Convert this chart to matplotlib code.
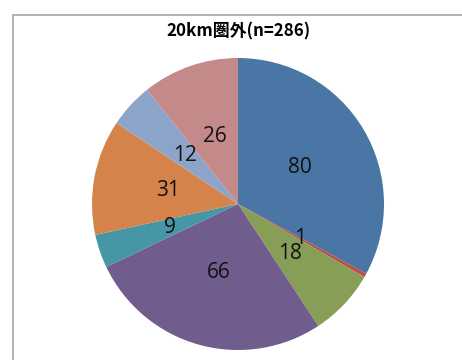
import matplotlib.pyplot as plt
from matplotlib.patches import Rectangle

plt.rcParams['font.family'] = ['Noto Sans CJK JP', 'DejaVu Sans']

# 回答数（時計回り、12時の位置から）
values = [80, 1, 18, 66, 9, 31, 12, 26]
colors = ['#4A76A6', '#BE4B48', '#879E56', '#715C8E', '#4596A6',
          '#D4834A', '#8CA4CA', '#C48A89']
title = '20km圏外(n=286)'

fig = plt.figure(figsize=(4.62, 3.6), dpi=100)

# 外枠（右と下は画像の外まで続く）
fig.patches.append(Rectangle((13 / 462, -0.1), 1.2, (360 - 15) / 360 + 0.1,
                             transform=fig.transFigure, fill=False,
                             edgecolor='#A6A6A6', linewidth=1.2))

ax = fig.add_axes([(238 - 146) / 462, (360 - 204 - 146) / 360,
                   292 / 462, 292 / 360])
wedges, texts = ax.pie(values, colors=colors, startangle=90, counterclock=False,
                       labels=[str(v) for v in values], labeldistance=0.49,
                       wedgeprops=dict(linewidth=0),
                       textprops=dict(fontsize=15, family=['Open Sans'],
                                      color='#111111'))
for t in texts:
    t.set_horizontalalignment('center')
    t.set_verticalalignment('center')
ax.set_aspect('equal')
ax.set_xlim(-1, 1)
ax.set_ylim(-1, 1)

fig.text(239 / 462, 1 - 31 / 360, title, ha='center', va='center',
         fontsize=12.2, fontweight='bold')

fig.savefig('out.png', dpi=100)
